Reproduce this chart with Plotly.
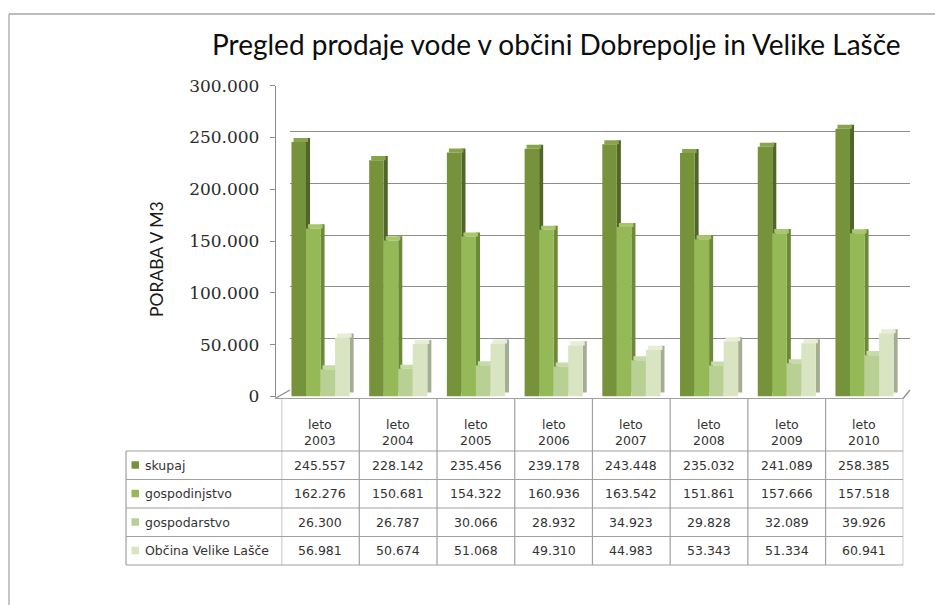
import plotly.graph_objects as go

# ---------------- data ----------------
years = ["2003", "2004", "2005", "2006", "2007", "2008", "2009", "2010"]
header_labels = ["leto<br>" + y for y in years]
series_names = ["skupaj", "gospodinjstvo", "gospodarstvo", "Občina Velike Lašče"]
skupaj = [245557, 228142, 235456, 239178, 243448, 235032, 241089, 258385]
gospodinjstvo = [162276, 150681, 154322, 160936, 163542, 151861, 157666, 157518]
gospodarstvo = [26300, 26787, 30066, 28932, 34923, 29828, 32089, 39926]
obcina_vl = [56981, 50674, 51068, 49310, 44983, 53343, 51334, 60941]
series_values = [skupaj, gospodinjstvo, gospodarstvo, obcina_vl]
y_ticks = [0, 50000, 100000, 150000, 200000, 250000, 300000]

# ---------------- style ----------------
W, H = 935, 605
front_colors = ["#76933C", "#95B956", "#B8D093", "#D8E4C2"]
side_colors = ["#506628", "#6A8A35", "#8FA56C", "#A3AD92"]
top_colors = ["#88A44A", "#A8C66C", "#C8DBA6", "#E6EED6"]


def X(px):
    return px / W


def Y(py):
    return 1 - py / H


def fmt(v):
    return f"{v:,}".replace(",", ".")


fig = go.Figure()

# geometry of bars in category units
bw = 0.187          # front width of a bar
start = -0.373      # group start relative to category centre
dx = 0.052          # 3D depth (horizontal)
dy = 3900           # 3D depth (vertical, data units)

# side faces
for i, vals in enumerate(series_values):
    fig.add_trace(go.Bar(
        x=years, y=vals, base=dy, xaxis="x2", yaxis="y2",
        offset=start + (i + 1) * bw, width=dx,
        marker=dict(color=side_colors[i], line=dict(width=0)),
        showlegend=False, hoverinfo="skip"))
# top faces
for i, vals in enumerate(series_values):
    fig.add_trace(go.Bar(
        x=years, y=[dy] * len(vals), base=vals, xaxis="x2", yaxis="y2",
        offset=start + i * bw + dx * 0.5, width=bw,
        marker=dict(color=top_colors[i], line=dict(width=0)),
        showlegend=False, hoverinfo="skip"))
# front faces
for i, vals in enumerate(series_values):
    fig.add_trace(go.Bar(
        x=years, y=vals, xaxis="x2", yaxis="y2",
        offset=start + i * bw, width=bw, name=series_names[i],
        marker=dict(color=front_colors[i], line=dict(width=0)),
        showlegend=False))

# invisible trace for back-wall grid subplot
fig.add_trace(go.Scatter(x=[], y=[], xaxis="x", yaxis="y", showlegend=False))

shapes = []
grey = "#8C8C8C"
tgrey = "#A0A0A0"
# outer chart border (left and top)
shapes.append(dict(type="line", xref="paper", yref="paper", x0=X(9), x1=X(9), y0=Y(14), y1=Y(610),
                   line=dict(color="#A6A6A6", width=1.3)))
shapes.append(dict(type="line", xref="paper", yref="paper", x0=X(9), x1=X(940), y0=Y(14), y1=Y(14),
                   line=dict(color="#A6A6A6", width=1.3)))
# floor right/left diagonals
shapes.append(dict(type="line", xref="paper", yref="paper", x0=X(903), x1=X(910), y0=Y(398.5), y1=Y(390),
                   line=dict(color=grey, width=1.3)))
shapes.append(dict(type="line", xref="paper", yref="paper", x0=X(275), x1=X(290), y0=Y(398.5), y1=Y(390),
                   line=dict(color=grey, width=1.3)))

# table grid
row_edges = [451, 479.5, 508, 536.5, 565]
row_centers = [(row_edges[k] + row_edges[k + 1]) / 2 for k in range(len(row_edges) - 1)]
shapes.append(dict(type="line", xref="paper", yref="paper", x0=X(275), x1=X(903), y0=Y(398.5), y1=Y(398.5),
                   line=dict(color=tgrey, width=1.2)))
for r in row_edges:
    shapes.append(dict(type="line", xref="paper", yref="paper", x0=X(126), x1=X(903), y0=Y(r), y1=Y(r),
                       line=dict(color=tgrey, width=1.2)))
shapes.append(dict(type="line", xref="paper", yref="paper", x0=X(126), x1=X(126), y0=Y(451), y1=Y(565),
                   line=dict(color=tgrey, width=1.2)))
for k in range(len(years) + 1):
    shapes.append(dict(type="line", xref="x3", yref="paper", x0=k - 0.5, x1=k - 0.5, y0=Y(398.5), y1=Y(565),
                       line=dict(color=tgrey, width=1.2)))
# legend keys
for i in range(len(series_names)):
    c = row_centers[i]
    shapes.append(dict(type="rect", xref="paper", yref="paper", x0=X(131.5), x1=X(139), y0=Y(c + 3.5), y1=Y(c - 4),
                       fillcolor=front_colors[i], line=dict(width=0)))

annotations = []
tfont = dict(family="DejaVu Sans", size=12.5, color="#333333")
for k, lab in enumerate(header_labels):
    annotations.append(dict(xref="x3", yref="paper", x=k, y=Y(432), text=lab, showarrow=False,
                            font=tfont, xanchor="center", yanchor="middle"))
for i, name in enumerate(series_names):
    annotations.append(dict(xref="paper", yref="paper", x=X(143), y=Y(row_centers[i]), text=name,
                            showarrow=False, font=tfont, xanchor="left", yanchor="middle"))
    for k, v in enumerate(series_values[i]):
        annotations.append(dict(xref="x3", yref="paper", x=k, y=Y(row_centers[i]), text=fmt(v),
                                showarrow=False, font=tfont, xanchor="center", yanchor="middle"))
# title and axis title
annotations.append(dict(xref="paper", yref="paper", x=X(556), y=Y(44),
                        text="Pregled prodaje vode v občini Dobrepolje in Velike Lašče",
                        showarrow=False, font=dict(family="Lato", size=28, color="#0d0d0d"),
                        xanchor="center", yanchor="middle"))
annotations.append(dict(xref="paper", yref="paper", x=X(157), y=Y(259), text="PORABA V M3",
                        textangle=-90, showarrow=False, font=dict(family="Lato", size=17.5, color="#1a1a1a"),
                        xanchor="center", yanchor="middle"))

fig.update_layout(
    template="none",
    width=W, height=H, margin=dict(l=0, r=0, t=0, b=0, pad=0), autosize=False,
    paper_bgcolor="white", plot_bgcolor="rgba(0,0,0,0)",
    barmode="overlay", separators=",.", showlegend=False,
    xaxis=dict(domain=[X(290), X(910)], range=[0, 1], visible=False, anchor="y", automargin=False),
    yaxis=dict(domain=[Y(390), Y(80)], range=[0, 300000], tickvals=y_ticks, showgrid=True,
               gridcolor=grey, gridwidth=1.3, showticklabels=False, zeroline=False,
               showline=False, ticks="", anchor="x", automargin=False),
    xaxis2=dict(domain=[X(281.6), X(903.3)], type="category", range=[-0.5, 7.5],
                showticklabels=False, showgrid=False, zeroline=False, showline=False, ticks="",
                anchor="y2", automargin=False),
    yaxis2=dict(domain=[Y(396.5), Y(85.7)], range=[0, 300000], tickvals=y_ticks, tickformat=",.0f",
                anchor="free", position=X(275), showline=True, linecolor=grey, linewidth=1.3,
                ticks="outside", ticklen=5, tickcolor=grey, showgrid=False, zeroline=False,
                tickfont=dict(family="DejaVu Serif", size=17, color="#2b2b2b"),
                ticklabelstandoff=7, automargin=False),
    xaxis3=dict(domain=[X(275), X(903)], type="linear", range=[-0.5, 7.5], visible=False,
                anchor="y2", overlaying="x2", automargin=False),
    shapes=shapes, annotations=annotations,
)

fig.write_html("out.html", config={"displayModeBar": False},
               post_script="document.body.style.margin='0';document.body.style.overflow='hidden';")
